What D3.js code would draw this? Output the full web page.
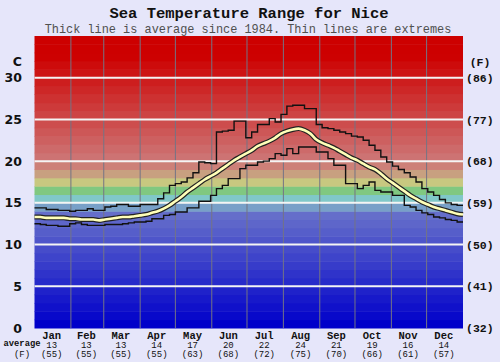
<!DOCTYPE html>
<html lang="en">
  <head>
    <meta charset="UTF-8" />
    <title>Sea Temperature Range for Nice</title>
    <script src="https://cdn.jsdelivr.net/npm/d3@7"></script>
    <style>
      body { margin: 0; background: #e6e6fa; }
    </style>
  </head>
  <body>
    <svg id="container" width="500" height="362"></svg>
    <script>
      // months along the bottom, with the monthly average in C and F
      const months = ["Jan","Feb","Mar","Apr","May","Jun","Jul","Aug","Sep","Oct","Nov","Dec"];
      const monthStart = [0, 31, 59, 90, 120, 151, 181, 212, 243, 273, 304, 334, 365];
      const monthAvgC = [13, 13, 13, 14, 17, 20, 22, 24, 21, 19, 16, 14];
      const monthAvgF = [55, 55, 55, 55, 63, 68, 72, 75, 70, 66, 61, 57];

      const tempTicks = [0, 5, 10, 15, 20, 25, 30];
      const fahrTicks = [32, 41, 50, 59, 68, 77, 86];

      // day of year for each reading (every 5 days)
      const days = [0,5,10,15,20,25,30,35,40,45,50,55,60,65,70,75,80,85,90,95,
        100,105,110,115,120,125,130,135,140,145,150,155,160,165,170,175,180,185,190,195,
        200,205,210,215,220,225,230,235,240,245,250,255,260,265,270,275,280,285,290,295,
        300,305,310,315,320,325,330,335,340,345,350,355,360,365];

      const avgTemp = [13.3,13.3,13.2,13.2,13.2,13.2,13.1,13.1,13.0,13.0,
        13.0,12.9,13.0,13.1,13.2,13.3,13.3,13.4,13.5,13.6,
        13.8,14.0,14.3,14.7,15.2,15.7,16.3,16.8,17.3,17.8,
        18.2,18.6,19.1,19.6,20.1,20.5,20.9,21.3,21.8,22.1,
        22.4,22.8,23.3,23.6,23.8,23.9,23.7,23.3,22.6,22.2,
        21.9,21.6,21.2,20.8,20.4,20.1,19.7,19.3,19.0,18.5,
        17.9,17.4,16.9,16.4,15.9,15.5,15.1,14.8,14.5,14.3,
        14.1,13.9,13.7,13.6];

      const maxTemp = [14.4,14.4,14.2,14.2,14.1,14.1,14.0,14.1,14.1,14.3,
        14.1,14.1,14.5,14.6,14.8,14.8,14.6,14.6,14.8,14.8,
        14.8,15.5,16.2,17.1,17.3,17.5,18.0,18.6,19.9,19.8,
        19.7,23.5,23.6,23.7,24.8,24.8,22.8,23.5,24.4,24.4,
        25.1,24.7,25.6,26.6,26.7,26.7,26.3,26.3,24.4,24.0,
        23.9,23.7,23.5,23.3,23.0,22.9,22.5,21.9,21.3,20.5,
        19.9,19.4,19.0,18.6,18.1,17.5,16.7,16.3,15.9,15.4,
        15.0,14.8,14.7,14.7];

      const minTemp = [12.5,12.4,12.3,12.3,12.2,12.2,12.5,12.6,12.4,12.3,
        12.3,12.3,12.4,12.4,12.4,12.5,12.6,12.7,12.7,12.8,
        13.1,13.1,13.5,13.6,13.9,13.9,14.4,14.4,15.2,15.2,
        15.9,16.7,17.1,17.9,17.9,19.1,19.5,19.5,19.9,20.0,
        20.3,20.9,20.7,21.5,20.9,21.7,21.7,21.7,21.1,21.1,
        20.3,19.5,19.5,17.3,17.3,16.7,17.1,17.5,16.5,16.3,
        16.3,15.9,15.9,14.7,14.5,14.1,13.8,13.6,13.3,13.2,
        13.0,12.9,12.7,12.7];

      const svg = d3.select("#container");
      const x = d3.scaleLinear().domain([0, 365]).range([34.5, 463]);
      const y = d3.scaleLinear().domain([0, 35]).range([328, 36]);

      // one coloured band per degree: blues, then the cyan/green/yellow strip, then reds
      function bandColor(t) {
        if (t < 14) { let v = Math.round(t * 7.8); return d3.rgb(v, v + Math.round(t * 0.7), 202); }
        const mid = { 14: "rgb(120,160,200)", 15: "rgb(128,200,200)", 16: "rgb(128,200,128)",
                      17: "rgb(200,200,128)", 18: "rgb(200,160,128)", 19: "rgb(205,128,120)" };
        if (mid[t]) return mid[t];
        let v = Math.max(0, Math.round(115 - (t - 20) * 9.5));
        return d3.rgb(205, v, v);
      }
      svg.append("g").selectAll("rect")
        .data(d3.range(0, 35))
        .join("rect")
        .attr("x", x(0)).attr("width", x(365) - x(0))
        .attr("y", d => y(d + 1)).attr("height", d => y(d) - y(d + 1) + 0.5)
        .attr("fill", d => bandColor(d));

      // month separators
      svg.append("g").selectAll("line")
        .data(monthStart.slice(1, 12))
        .join("line")
        .attr("x1", d => x(d)).attr("x2", d => x(d))
        .attr("y1", y(35)).attr("y2", y(0))
        .attr("stroke", "#747484").attr("stroke-width", 1);

      // white lines every 5 C
      svg.append("g").selectAll("line")
        .data(tempTicks.slice(1))
        .join("line")
        .attr("x1", x(0)).attr("x2", x(365))
        .attr("y1", d => y(d)).attr("y2", d => y(d))
        .attr("stroke", "#f4f4f4").attr("stroke-width", 2);

      const pts = (arr) => days.map((d, i) => [d, arr[i]]);
      const stepLine = d3.line().x(d => x(d[0])).y(d => y(d[1])).curve(d3.curveStepAfter);
      const smoothLine = d3.line().x(d => x(d[0])).y(d => y(d[1])).curve(d3.curveMonotoneX);

      [maxTemp, minTemp].forEach(arr => {
        svg.append("path").attr("d", stepLine(pts(arr)))
          .attr("fill", "none").attr("stroke", "#111").attr("stroke-width", 1.4);
      });
      svg.append("path").attr("d", smoothLine(pts(avgTemp)))
        .attr("fill", "none").attr("stroke", "#222").attr("stroke-width", 5);
      svg.append("path").attr("d", smoothLine(pts(avgTemp)))
        .attr("fill", "none").attr("stroke", "#ffffb8").attr("stroke-width", 2.6);

      // titles
      svg.append("text").attr("x", 249).attr("y", 18).attr("text-anchor", "middle")
        .attr("font-family", "Liberation Mono, monospace").attr("font-weight", "bold")
        .attr("font-size", 15.5).attr("fill", "#111")
        .text("Sea Temperature Range for Nice");
      svg.append("text").attr("x", 248).attr("y", 33).attr("text-anchor", "middle")
        .attr("font-family", "Liberation Mono, monospace")
        .attr("font-size", 11.9).attr("fill", "#505050")
        .text("Thick line is average since 1984. Thin lines are extremes");

      // left axis (C)
      const left = svg.append("g").attr("font-family", "DejaVu Sans, sans-serif")
        .attr("font-weight", "bold").attr("font-size", 12.5).attr("fill", "#111")
        .attr("text-anchor", "end");
      left.selectAll("text").data(tempTicks).join("text")
        .attr("x", 22).attr("y", d => y(d)).attr("dy", "0.36em").text(d => d);
      left.append("text").attr("x", 22).attr("y", 61).attr("dy", "0.36em").text("C");

      // right axis (F)
      const right = svg.append("g").attr("font-family", "Liberation Mono, monospace")
        .attr("font-weight", "bold").attr("font-size", 11.5).attr("fill", "#111");
      right.selectAll("text").data(fahrTicks).join("text")
        .attr("x", 466).attr("y", (d, i) => y(tempTicks[i])).attr("dy", "0.36em").text(d => "(" + d + ")");
      right.append("text").attr("x", 480).attr("y", 62).attr("dy", "0.36em")
        .attr("text-anchor", "middle").text("(F)");

      // bottom labels
      const mid = (i) => (x(monthStart[i]) + x(monthStart[i + 1])) / 2 - 1;
      const bottom = svg.append("g").attr("font-family", "Liberation Mono, monospace")
        .attr("fill", "#111").attr("text-anchor", "middle");
      bottom.selectAll(".m").data(months).join("text").attr("class", "m")
        .attr("x", (d, i) => mid(i)).attr("y", 339)
        .attr("font-weight", "bold").attr("font-size", 10.5).text(d => d);
      bottom.selectAll(".c").data(monthAvgC).join("text").attr("class", "c")
        .attr("x", (d, i) => mid(i)).attr("y", 347.5)
        .attr("font-size", 9).text(d => d);
      bottom.selectAll(".f").data(monthAvgF).join("text").attr("class", "f")
        .attr("x", (d, i) => mid(i)).attr("y", 356.5)
        .attr("font-size", 9).text(d => "(" + d + ")");
      bottom.append("text").attr("x", 22).attr("y", 346)
        .attr("font-weight", "bold").attr("font-size", 8.8).text("average");
      bottom.append("text").attr("x", 22).attr("y", 357)
        .attr("font-size", 9).text("(F)");
    </script>
  </body>
</html>
